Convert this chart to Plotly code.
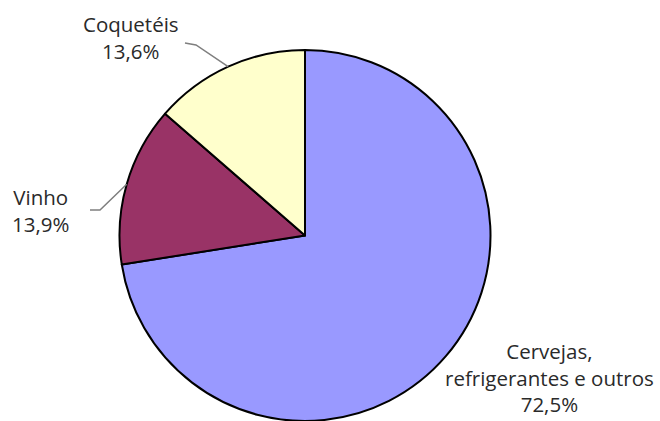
import math
import plotly.graph_objects as go

labels = ["Cervejas,<br>refrigerantes e outros", "Vinho", "Coquetéis"]
values = [72.5, 13.9, 13.6]
colors = ["#9999FF", "#993366", "#FFFFCC"]

W, H = 660, 421
cx, cy, r = 305, 235.5, 185.5

fig = go.Figure(go.Pie(
    labels=labels, values=values, sort=False, direction="clockwise", rotation=0,
    marker=dict(colors=colors, line=dict(color="#000000", width=2)),
    textinfo="none", hoverinfo="label+percent", showlegend=False,
    domain=dict(x=[(cx - r) / W, (cx + r) / W], y=[(H - cy - r) / H, (H - cy + r) / H]),
))

def fmt(v):
    return f"{v:.1f}".replace(".", ",") + "%"

# label anchor positions (pixel) and leader bend points
label_pos = {
    0: (549, 377, None),
    1: (40, 210, (90, 210, 100, 210)),
    2: (131, 38, (185, 43, 196, 45)),
}

total = sum(values)
cum = 0
shapes = []
annotations = []
font = dict(family="Open Sans, Lato, sans-serif", size=20.5, color="#2a2a2a")
for i, v in enumerate(values):
    mid = (cum + v / 2) / total * 2 * math.pi
    cum += v
    px = cx + r * math.sin(mid)
    py = cy - r * math.cos(mid)
    lx, ly, lead = label_pos[i]
    annotations.append(dict(
        x=lx / W, y=1 - ly / H, xref="paper", yref="paper",
        text=f"{labels[i]}<br>{fmt(v)}", showarrow=False, font=font,
        align="center", xanchor="center", yanchor="middle", borderpad=0,
    ))
    if lead:
        x0, y0, x1, y1 = lead
        path = f"M {x0/W} {1-y0/H} L {x1/W} {1-y1/H} L {px/W} {1-py/H}"
        shapes.append(dict(type="path", path=path, xref="paper", yref="paper",
                           line=dict(color="#7f7f7f", width=1.5)))

fig.update_layout(
    width=W, height=H, margin=dict(l=0, r=0, t=0, b=0),
    paper_bgcolor="white", plot_bgcolor="white",
    shapes=shapes, annotations=annotations,
)
fig.write_html("out.html")
